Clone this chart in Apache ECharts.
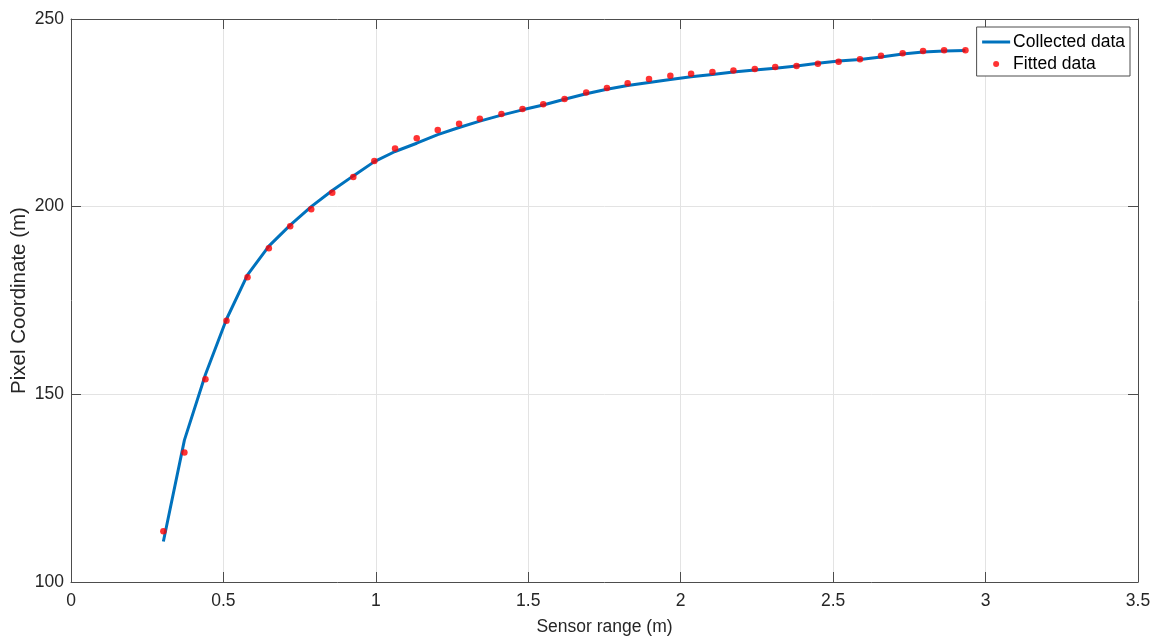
<!DOCTYPE html>
<html>
<head>
<meta charset="utf-8">
<title>Sensor range vs pixel coordinate</title>
<script src="https://cdn.jsdelivr.net/npm/echarts@6/dist/echarts.min.js"></script>
<style>
  html, body { margin: 0; padding: 0; background: #fff; }
  #chart { width: 1159px; height: 641px; }
</style>
</head>
<body>
<div id="chart"></div>
<script>
// sensor range (m), shared by both series
var sensorRange = [0.303, 0.372, 0.441, 0.510, 0.579, 0.649, 0.719, 0.788, 0.857, 0.926,
  0.995, 1.063, 1.134, 1.203, 1.273, 1.341, 1.412, 1.481, 1.549, 1.619,
  1.690, 1.758, 1.826, 1.896, 1.966, 2.034, 2.104, 2.173, 2.243, 2.310,
  2.380, 2.450, 2.518, 2.588, 2.657, 2.728, 2.795, 2.864, 2.934]

var collectedData = [110.8, 137.8, 155.3, 170.0, 181.8, 189.5, 195.1, 200.0, 204.3, 208.2,
  212.0, 214.7, 216.9, 219.2, 221.1, 222.8, 224.4, 225.8, 227.1, 228.6,
  230.1, 231.3, 232.3, 233.1, 233.9, 234.6, 235.2, 235.9, 236.4, 236.9,
  237.5, 238.2, 238.8, 239.2, 239.9, 240.7, 241.2, 241.5, 241.6]

var fittedData = [113.5, 134.5, 154.0, 169.6, 181.2, 188.9, 194.8, 199.3, 203.7, 207.9,
  212.2, 215.5, 218.2, 220.4, 222.1, 223.4, 224.7, 226.0, 227.3, 228.7,
  230.4, 231.6, 232.9, 234.0, 234.9, 235.4, 235.9, 236.3, 236.7, 237.2,
  237.5, 238.1, 238.6, 239.3, 240.2, 240.9, 241.5, 241.7, 241.7]

var seriesNames = ['Collected data', 'Fitted data']

var fontFamily = "'Liberation Sans', Arial, Helvetica, sans-serif"
var axisColor = '#4d4d4d'
var textColor = '#262626'

function pairs(xs, ys) {
  return xs.map(function (x, i) { return [x, ys[i]] })
}

var chart = echarts.init(document.getElementById('chart'))

// hidden-label axes on top/right just draw the MATLAB style box with ticks
function boxAxis(pos, min, max, interval) {
  return {
    type: 'value',
    position: pos,
    min: min,
    max: max,
    interval: interval,
    axisLine: { show: true, onZero: false, lineStyle: { color: axisColor, width: 1 } },
    axisTick: { show: true, inside: true, length: 10, lineStyle: { color: axisColor } },
    axisLabel: { show: false },
    splitLine: { show: false }
  }
}

chart.setOption({
  animation: false,
  backgroundColor: '#fff',
  textStyle: { fontFamily: fontFamily },
  grid: {
    left: 71,
    right: 21,
    top: 19,
    bottom: 59,
    containLabel: false,
    outerBoundsMode: 'none'
  },
  legend: {
    orient: 'vertical',
    right: 29,
    top: 27,
    data: [
      {
        name: seriesNames[0],
        itemStyle: { color: 'rgba(0,0,0,0)', borderWidth: 0 },
        lineStyle: { width: 3 }
      },
      seriesNames[1]
    ],
    itemWidth: 28,
    itemHeight: 6,
    itemGap: 4,
    padding: [6, 5, 3, 4],
    backgroundColor: '#fff',
    borderColor: axisColor,
    borderWidth: 1,
    borderRadius: 0,
    textStyle: { fontSize: 17.5, lineHeight: 18, color: '#000', fontFamily: fontFamily, padding: [0, 0, 0, -2] }
  },
  xAxis: [{
    type: 'value',
    min: 0,
    max: 3.5,
    interval: 0.5,
    name: 'Sensor range (m)',
    nameLocation: 'middle',
    nameGap: 36,
    nameMoveOverlap: false,
    nameTextStyle: { fontSize: 17.5, color: textColor },
    axisLine: { show: true, onZero: false, lineStyle: { color: axisColor, width: 1 } },
    axisTick: { show: true, inside: true, length: 10, lineStyle: { color: axisColor } },
    axisLabel: { fontSize: 17.5, color: textColor, margin: 10 },
    splitLine: { show: true, lineStyle: { color: '#e3e3e3', width: 1 } }
  }, boxAxis('top', 0, 3.5, 0.5)],
  yAxis: [{
    type: 'value',
    min: 100,
    max: 250,
    interval: 50,
    name: 'Pixel Coordinate (m)',
    nameLocation: 'middle',
    nameGap: 41,
    nameMoveOverlap: false,
    nameTextStyle: { fontSize: 20.5, color: textColor },
    axisLine: { show: true, onZero: false, lineStyle: { color: axisColor, width: 1 } },
    axisTick: { show: true, inside: true, length: 10, lineStyle: { color: axisColor } },
    axisLabel: { fontSize: 17.5, color: textColor, margin: 7 },
    splitLine: { show: true, lineStyle: { color: '#e3e3e3', width: 1 } }
  }, boxAxis('right', 100, 250, 50)],
  series: [{
    name: seriesNames[0],
    type: 'line',
    data: pairs(sensorRange, collectedData),
    symbol: 'none',
    smooth: false,
    itemStyle: { color: '#0072bd' },
    lineStyle: { color: '#0072bd', width: 3 },
    z: 2
  }, {
    name: seriesNames[1],
    type: 'scatter',
    data: pairs(sensorRange, fittedData),
    symbol: 'circle',
    symbolSize: 6.5,
    itemStyle: { color: '#ff0000' },
    z: 3
  }]
})
</script>
</body>
</html>
